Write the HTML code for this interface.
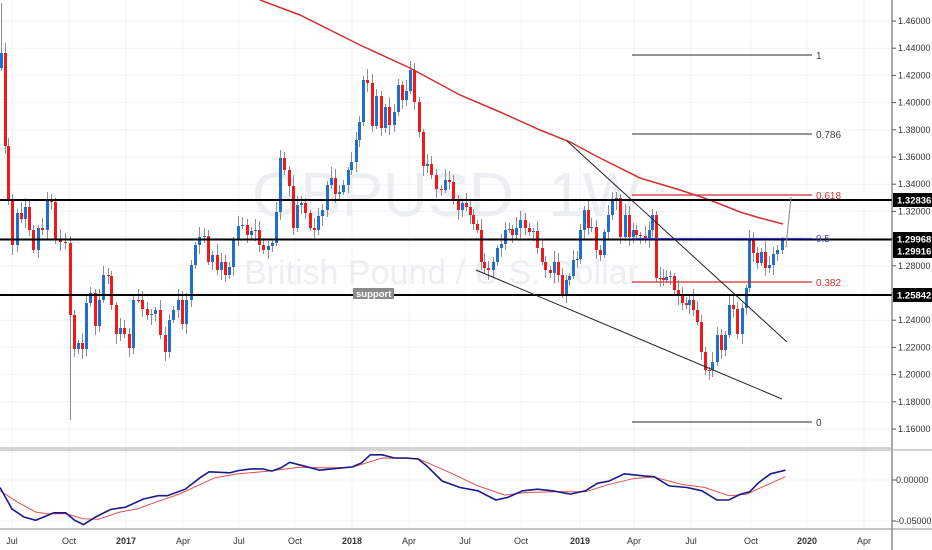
<!DOCTYPE html>
<html><head><meta charset="utf-8">
<style>
html,body{margin:0;padding:0;background:#fff;}
svg{display:block;font-family:"Liberation Sans",sans-serif;}
</style></head>
<body>
<svg id="c" width="932" height="550" xmlns="http://www.w3.org/2000/svg">
<rect width="932" height="550" fill="#fff"/>
<g id="grid" stroke="#f0f3f6" stroke-width="1"></g>
<text x="252" y="216" font-size="62" fill="#eceef1">GBPUSD, 1W</text>
<text x="244" y="284" font-size="34" fill="#eceef1">British Pound / U.S. Dollar</text>
<g id="cand"></g>
<polyline id="ma" fill="none" stroke="#d32f2f" stroke-width="1.5"/>
<line x1="0" y1="200" x2="892" y2="200" stroke="#000" stroke-width="2"/>
<line x1="0" y1="239.5" x2="892" y2="239.5" stroke="#000" stroke-width="2"/>
<line x1="0" y1="295" x2="892" y2="295" stroke="#000" stroke-width="2"/>
<g stroke-width="1.3">
<line x1="632" y1="55" x2="812" y2="55" stroke="#555"/>
<line x1="632" y1="134" x2="812" y2="134" stroke="#555"/>
<line x1="632" y1="195" x2="812" y2="195" stroke="#d32f2f"/>
<line x1="632" y1="238.5" x2="812" y2="238.5" stroke="#3c3ce0"/>
<line x1="632" y1="282" x2="812" y2="282" stroke="#d32f2f"/>
<line x1="632" y1="422" x2="812" y2="422" stroke="#555"/>
</g>
<g font-size="10">
<text x="816" y="59" fill="#444">1</text>
<text x="816" y="138" fill="#444">0.786</text>
<text x="816" y="199" fill="#d32f2f">0.618</text>
<text x="816" y="242" fill="#3c3ce0">0.5</text>
<text x="816" y="286" fill="#d32f2f">0.382</text>
<text x="816" y="426" fill="#444">0</text>
</g>
<line x1="567" y1="141" x2="787" y2="342" stroke="#222" stroke-width="1"/>
<line x1="476" y1="270" x2="782" y2="399" stroke="#222" stroke-width="1"/>
<line x1="786" y1="247" x2="791" y2="197" stroke="#888" stroke-width="1"/>
<rect x="353" y="288" width="41" height="11" fill="#8a8a8a"/>
<text x="356" y="297" font-size="9.5" fill="#fff" font-weight="bold">support</text>
<line x1="892" y1="0" x2="892" y2="550" stroke="#555" stroke-width="1"/>
<line x1="0" y1="448" x2="892" y2="448" stroke="#aaa" stroke-width="1"/>
<line x1="0" y1="450" x2="932" y2="450" stroke="#aaa" stroke-width="1"/>
<line x1="0" y1="529" x2="932" y2="529" stroke="#888" stroke-width="1"/>
<g id="yax" font-size="9" fill="#333"></g>
<g id="xax" font-size="9" fill="#333"></g>
<polyline id="rl" fill="none" stroke="#e05050" stroke-width="1"/>
<polyline id="bl" fill="none" stroke="#1a1a8c" stroke-width="1.6"/>
<g font-size="9.5" font-weight="bold" fill="#fff">
<rect x="893" y="193" width="39" height="14" fill="#000"/><text x="897" y="203.5">1.32836</text>
<rect x="893" y="232" width="39" height="14" fill="#000"/><text x="897" y="242.5">1.29968</text>
<rect x="893" y="244" width="39" height="14" fill="#000"/><text x="897" y="254.5">1.29916</text>
<rect x="893" y="288" width="39" height="14" fill="#000"/><text x="897" y="298.5">1.25842</text>
</g>
</svg>
<script>
var NS="http://www.w3.org/2000/svg";
function el(t,a,p){var e=document.createElementNS(NS,t);for(var k in a)e.setAttribute(k,a[k]);if(p)p.appendChild(e);return e;}
var grid=document.getElementById('grid'),yax=document.getElementById('yax'),xax=document.getElementById('xax');
for(var i=0;i<=15;i++){var p=1.46-i*0.02,y=21+i*27.2;
 el('line',{x1:0,y1:y,x2:892,y2:y},grid);
 el('line',{x1:892,y1:y,x2:896,y2:y,stroke:'#555'},yax);
 var t=el('text',{x:898,y:y+3},yax);t.textContent=p.toFixed(5);}
[[480,'0.00000'],[521,'-0.05000']].forEach(function(a){el('line',{x1:892,y1:a[0],x2:896,y2:a[0],stroke:'#555'},yax);var t=el('text',{x:896,y:a[0]+3},yax);t.textContent=a[1];el('line',{x1:0,y1:a[0],x2:892,y2:a[0]},grid);});
var xl=[[12,'Jul'],[69,'Oct'],[126,'2017'],[183,'Apr'],[239,'Jul'],[295,'Oct'],[352,'2018'],[409,'Apr'],[465,'Jul'],[521,'Oct'],[580,'2019'],[634,'Apr'],[691,'Jul'],[751,'Oct'],[807,'2020'],[864,'Apr']];
xl.forEach(function(a){el('line',{x1:a[0],y1:0,x2:a[0],y2:529},grid);var t=el('text',{x:a[0],y:544,'text-anchor':'middle','font-weight':/20/.test(a[1])?'bold':'normal'},xax);t.textContent=a[1];});
var d=[[1,53,68],[5,146],[8,200],[12,245],[17,213],[21,219],[25,207],[29,230],[33,250],[38,228],[42,230],[47,200],[51,202],[55,240],[60,242],[65,243],[70,315],[74,349],[78,343],[82,349],[86,303],[90,293],[95,326],[99,300],[103,275],[108,276],[111,305],[116,334],[120,328],[124,334],[129,348],[133,300],[138,300],[142,309],[147,315],[151,314],[155,310],[160,335],[165,352],[169,320],[173,310],[178,300],[182,324],[186,300],[191,265],[195,245],[199,237],[204,236],[208,262],[212,255],[217,270],[221,262],[225,275],[229,267],[233,240],[238,226],[242,225],[247,235],[251,231],[255,230],[259,245],[263,250],[268,246],[272,243],[276,212],[280,158],[284,170],[289,186],[293,228],[297,205],[301,203],[305,213],[310,228],[314,230],[318,216],[322,210],[327,185],[331,178],[335,194],[339,192],[343,185],[348,170],[351,162],[356,140],[359,122],[363,80],[367,83],[372,126],[376,96],[381,128],[385,107],[389,125],[394,112],[398,85],[402,100],[406,91],[410,70],[414,102],[419,132],[423,166],[427,164],[431,175],[436,189],[441,190],[445,180],[449,182],[453,200],[458,210],[462,203],[466,207],[470,215],[473,224],[477,230],[481,262],[484,268],[488,270],[493,262],[497,248],[501,244],[505,230],[509,229],[512,235],[516,228],[520,220],[525,228],[529,232],[533,231],[537,248],[542,262],[545,270],[550,273],[554,262],[558,275],[562,294],[566,280],[569,276],[573,260],[577,259],[580,230],[584,210],[588,228],[591,227],[596,250],[600,255],[604,232],[608,215],[612,200],[616,198],[620,237],[625,215],[629,237],[633,230],[636,235],[640,236],[645,238],[649,230],[652,215],[656,278],[660,278],[663,280],[666,277],[670,276],[674,290],[678,295],[682,303],[686,305],[689,300],[693,310],[697,322],[701,352],[705,370],[709,370],[712,362],[717,335],[721,350],[725,335],[729,305],[733,309],[737,334],[742,308],[746,288],[749,240],[753,253],[757,263],[761,252],[765,268],[769,265],[773,254],[777,250],[782,240]];
var cg=document.getElementById('cand'),prev=d[0][2];
d.forEach(function(c,i){var o=c.length>2?c[2]:prev,cl=c[1],x=c[0];
 var top=Math.min(o,cl),bot=Math.max(o,cl);var w1=3+((i*7)%9),w2=3+((i*5)%8);
 if(i==16)w2=105;if(i==0)w1=50;
 el('line',{x1:x+0.5,y1:top-w1,x2:x+0.5,y2:bot+w2,stroke:'#8a8f99','stroke-width':1},cg);
 var up=cl<o;el('rect',{x:x-1,y:top,width:3,height:Math.max(1,bot-top),fill:up?'#1e6fd0':'#f11a1a'},cg);
 prev=cl;});
document.getElementById('ma').setAttribute('points',"260,0 300,15 360,45 410,68 460,95 500,112 540,130 570,142 600,158 640,178 680,190 710,200 740,212 760,218 783,224");
function conv(a){return a.map(function(p){return (p[0]/1.674).toFixed(1)+","+(440+p[1]/3.05).toFixed(1);}).join(" ");}
document.getElementById('bl').setAttribute('points',conv([[0,145],[20,210],[40,235],[60,245],[90,222],[110,222],[125,245],[140,258],[160,235],[185,212],[210,205],[240,180],[265,170],[280,170],[310,150],[335,115],[350,97],[385,100],[400,93],[420,88],[440,88],[455,95],[470,85],[485,68],[510,80],[535,92],[555,88],[590,82],[605,70],[620,45],[640,45],[660,55],[680,55],[700,58],[715,80],[740,125],[770,145],[800,155],[830,183],[850,175],[875,155],[900,150],[925,155],[955,165],[980,155],[1000,132],[1020,125],[1045,103],[1080,110],[1095,112],[1120,140],[1150,145],[1175,155],[1200,183],[1220,183],[1240,165],[1255,158],[1270,130],[1290,103],[1315,92]]));
document.getElementById('rl').setAttribute('points',conv([[0,155],[30,190],[60,220],[80,225],[110,225],[140,240],[165,242],[200,220],[230,210],[260,190],[300,165],[330,140],[360,115],[400,103],[450,95],[500,83],[550,85],[590,83],[640,55],[700,57],[760,105],[800,140],[845,168],[880,160],[930,158],[980,158],[1020,135],[1060,118],[1095,113],[1140,135],[1180,145],[1220,170],[1250,165],[1280,140],[1315,112]]));
</script>
</body></html>
